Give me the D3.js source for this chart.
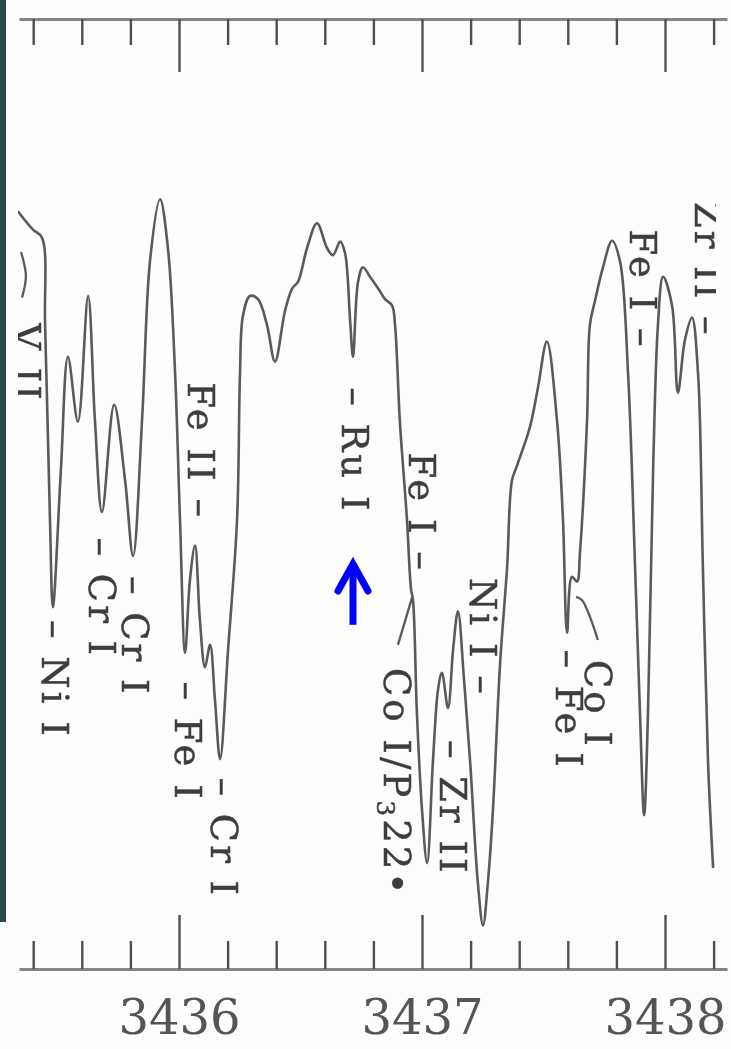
<!DOCTYPE html>
<html>
<head>
<meta charset="utf-8">
<script src="https://cdn.jsdelivr.net/npm/d3@7"></script>
<style>
  body { margin: 0; background: #fff; }
  svg { display: block; }
</style>
</head>
<body>
<div id="chart"></div>
<script>
// spectrum trace: wavelength (Å) and relative intensity (%)
const wavelength = [
  3435.337, 3435.399, 3435.436, 3435.449, 3435.469, 3435.481, 3435.514, 3435.543, 3435.584, 3435.626,
  3435.654, 3435.683, 3435.733, 3435.778, 3435.811, 3435.848, 3435.881, 3435.922, 3435.955, 3435.984,
  3436.004, 3436.025, 3436.045, 3436.066, 3436.086, 3436.107, 3436.128, 3436.148, 3436.169, 3436.202,
  3436.239, 3436.251, 3436.263, 3436.292, 3436.325, 3436.362, 3436.395, 3436.436, 3436.465, 3436.490,
  3436.527, 3436.568, 3436.609, 3436.634, 3436.663, 3436.683, 3436.704, 3436.716, 3436.737, 3436.757,
  3436.786, 3436.827, 3436.848, 3436.877, 3436.889, 3436.909, 3436.938, 3436.955, 3436.963, 3436.979,
  3437.000, 3437.021, 3437.045, 3437.066, 3437.082, 3437.107, 3437.128, 3437.148, 3437.173, 3437.198,
  3437.230, 3437.251, 3437.272, 3437.292, 3437.321, 3437.350, 3437.370, 3437.391, 3437.444, 3437.477,
  3437.514, 3437.556, 3437.580, 3437.597, 3437.617, 3437.638, 3437.650, 3437.679, 3437.691, 3437.712,
  3437.745, 3437.782, 3437.815, 3437.848, 3437.877, 3437.897, 3437.914, 3437.930, 3437.951, 3437.971,
  3437.992, 3438.029, 3438.053, 3438.082, 3438.111, 3438.136, 3438.156, 3438.177, 3438.198
];
const intensity = [
  93.6, 91.3, 90.3, 79.4, 55.1, 44.1, 61.3, 75.4, 67.3, 83.0,
  67.5, 56.0, 69.4, 60.0, 50.5, 67.5, 87.5, 95.1, 88.8, 73.3,
  55.1, 38.4, 47.5, 51.8, 42.5, 36.6, 39.4, 32.5, 25.1, 38.8,
  55.1, 73.3, 80.5, 83.0, 82.6, 79.4, 74.8, 81.1, 83.9, 84.8,
  89.0, 92.1, 89.0, 88.1, 89.8, 88.4, 80.0, 75.4, 84.8, 86.6,
  85.4, 83.6, 82.6, 81.8, 79.4, 67.3, 55.1, 46.3, 45.0, 30.9,
  18.8, 12.1, 24.8, 33.8, 35.9, 31.5, 38.8, 43.6, 35.0, 24.8,
  9.6, 4.3, 10.0, 18.8, 36.9, 49.0, 59.9, 61.8, 66.6, 71.5,
  77.3, 67.3, 55.1, 40.9, 47.9, 47.3, 50.9, 67.3, 79.4, 82.4,
  86.6, 89.9, 87.3, 73.3, 49.0, 30.9, 18.1, 30.9, 61.1, 79.4,
  85.4, 81.8, 70.9, 77.5, 80.3, 73.3, 49.0, 24.8, 11.5
];

// ticks every 0.2 Å, numbers on the whole Å
const tickValues = [3435.4, 3435.6, 3435.8, 3436.0, 3436.2, 3436.4, 3436.6, 3436.8,
                    3437.0, 3437.2, 3437.4, 3437.6, 3437.8, 3438.0, 3438.2];
const tickLabels = [3436, 3437, 3438];

// line identifications: wavelength of the tick, intensity where the text begins/ends
// side: "start" = dash then name, "end" = name then dash, "mid" = no dash (leader drawn)
const lineIds = [
  {text: "V II",          wl: 3435.374, at: 79.6, side: "mid"},
  {text: "Ni I",          wl: 3435.481, at: 42.5, side: "start"},
  {text: "Cr I",          wl: 3435.675, at: 52.8, side: "start"},
  {text: "Cr I",          wl: 3435.811, at: 48.0, side: "start"},
  {text: "Fe II",         wl: 3436.082, at: 55.0, side: "end"},
  {text: "Fe I",          wl: 3436.029, at: 34.8, side: "start"},
  {text: "Cr I",          wl: 3436.177, at: 22.8, side: "start"},
  {text: "Ru I",          wl: 3436.716, at: 71.6, side: "start"},
  {text: "Fe I",          wl: 3436.992, at: 48.4, side: "end"},
  {text: "Co I/P_3_22•",  wl: 3436.897, at: 36.5, side: "mid"},
  {text: "Ni I",          wl: 3437.243, at: 32.9, side: "end"},
  {text: "Zr II",         wl: 3437.119, at: 27.5, side: "start"},
  {text: "Fe I",          wl: 3437.597, at: 38.8, side: "start"},
  {text: "Co I",          wl: 3437.724, at: 37.5, side: "mid"},
  {text: "Fe I",          wl: 3437.901, at: 76.3, side: "end"},
  {text: "Zr II",         wl: 3438.170, at: 77.8, side: "end"}
];

// leader strokes for the labels without a dash
const leaderWl = [
  [3435.350, 3435.370, 3435.354],
  [3436.959, 3436.901],
  [3437.634, 3437.658, 3437.724]
];
const leaderAt = [
  [88.5, 85.5, 82.8],
  [45.3, 39.4],
  [45.4, 45.0, 40.0]
];

// the blue arrow marks the Ru I line
const arrowWl = 3436.716;
const arrowTip = 50.0, arrowTail = 41.9;

const W = 731, H = 1049;
const x = d3.scaleLinear().domain([3436, 3438]).range([179, 665]);
const y = d3.scaleLinear().domain([0, 100]).range([960, 160]);
// same mapping, stretched to the full width of the printed axis line
const xAxis = x.copy().domain([x.invert(19), x.invert(727)]).range([19, 727]);

const isMajor = d => Math.abs(d - Math.round(d)) < 1e-6;

const svg = d3.select("#chart").append("svg")
  .attr("width", W).attr("height", H);

const defs = svg.append("defs");
defs.append("filter").attr("id", "soft")
  .append("feGaussianBlur").attr("stdDeviation", 0.6);
defs.append("clipPath").attr("id", "plot")
  .append("rect").attr("x", 18).attr("y", 0).attr("width", 698).attr("height", H);

svg.append("rect").attr("width", W).attr("height", H).attr("fill", "#fdfdfd");

const page = svg.append("g").attr("filter", "url(#soft)");

// top axis, ticks hanging down
const topAxis = page.append("g")
  .attr("transform", "translate(0,19)")
  .call(d3.axisBottom(xAxis).tickValues(tickValues).tickSize(26).tickSizeOuter(0).tickFormat(""));
topAxis.selectAll(".tick line").attr("y2", d => isMajor(d) ? 53 : 26);

// bottom axis, ticks pointing up, numbers below
const bottomAxis = page.append("g")
  .attr("transform", "translate(0,969)")
  .call(d3.axisBottom(xAxis).tickValues(tickValues).tickSizeInner(-28).tickSizeOuter(0)
    .tickPadding(31)
    .tickFormat(d => tickLabels.includes(Math.round(d)) && isMajor(d) ? Math.round(d) : ""));
bottomAxis.selectAll(".tick line").attr("y2", d => isMajor(d) ? -54 : -28);

[topAxis, bottomAxis].forEach(g => {
  g.select(".domain").attr("stroke", "#858585").attr("stroke-width", 3);
  g.selectAll(".tick line").attr("stroke", "#505050").attr("stroke-width", 2.4);
  g.selectAll(".tick text")
    .attr("fill", "#555")
    .style("font-family", "'DejaVu Serif', serif")
    .style("font-size", "48px");
});

// spectrum
const plot = page.append("g").attr("clip-path", "url(#plot)");
const line = d3.line()
  .x(i => x(wavelength[i]))
  .y(i => y(intensity[i]))
  .curve(d3.curveCatmullRom.alpha(0.5));
plot.append("path")
  .attr("d", line(d3.range(wavelength.length)))
  .attr("fill", "none")
  .attr("stroke", "#5a5a5a")
  .attr("stroke-width", 2.6)
  .attr("stroke-linejoin", "round");

// leaders
const leader = d3.line().x(d => x(d[0])).y(d => y(d[1])).curve(d3.curveCatmullRom);
leaderWl.forEach((wls, k) => {
  plot.append("path")
    .attr("d", leader(wls.map((w, j) => [w, leaderAt[k][j]])))
    .attr("fill", "none").attr("stroke", "#5a5a5a").attr("stroke-width", 2.3);
});

// rotated identifications
const labels = plot.selectAll("text.id")
  .data(lineIds)
  .join("text")
    .attr("class", "id")
    .attr("transform", d => `translate(${x(d.wl)},${y(d.at)}) rotate(90)`)
    .attr("text-anchor", d => d.side === "end" ? "end" : "start")
    .attr("dy", d => d.side === "mid" ? "0.36em" : "0.3em")
    .attr("fill", "#3e3e3e")
    .attr("stroke", "#3e3e3e")
    .attr("stroke-width", 0.5)
    .style("font-family", "'DejaVu Serif', serif")
    .style("font-size", "37px")
    .style("letter-spacing", "3px");

labels.each(function(d) {
  const t = d3.select(this);
  const name = d.side === "start" ? "– " + d.text : d.side === "end" ? d.text + " –" : d.text;
  const parts = name.split("_");
  parts.forEach((p, k) => {
    const sub = k % 2 === 1;
    t.append("tspan")
      .attr("dy", sub ? 7 : (k > 0 ? -7 : null))
      .style("font-size", sub ? "25px" : null)
      .text(p);
  });
});

// blue arrow under Ru I
const ax = x(arrowWl);
svg.append("path")
  .attr("d", `M${ax},${y(arrowTail)}V${y(arrowTip) + 6}`)
  .attr("stroke", "#0000ff").attr("stroke-width", 7).attr("fill", "none");
svg.append("path")
  .attr("d", `M${ax - 15},${y(arrowTip) + 31}L${ax},${y(arrowTip) + 4}L${ax + 15},${y(arrowTip) + 31}`)
  .attr("stroke", "#0000ff").attr("stroke-width", 7).attr("fill", "none")
  .attr("stroke-linecap", "round").attr("stroke-linejoin", "miter");

// dark edge of the scan on the left
svg.append("rect").attr("x", 0).attr("y", 0).attr("width", 6).attr("height", 922).attr("fill", "#2a4b4c");
</script>
</body>
</html>
